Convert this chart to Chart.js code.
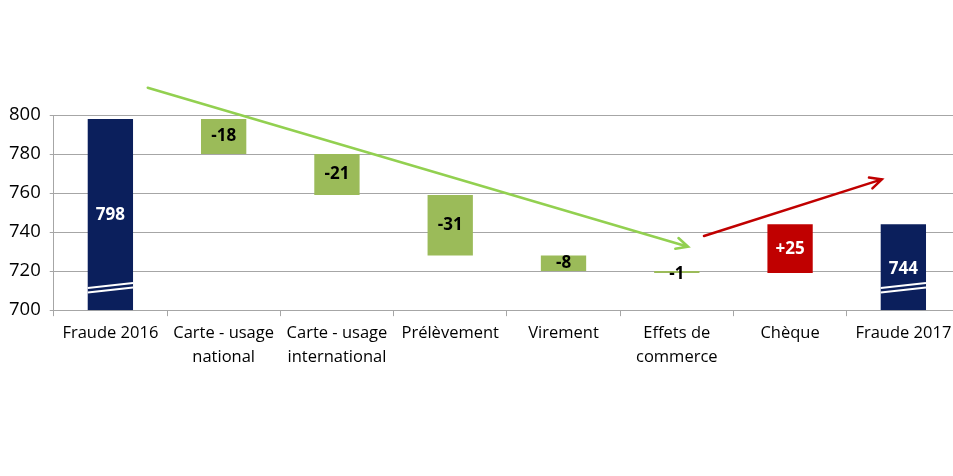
<!DOCTYPE html>
<html>
<head>
<meta charset="utf-8">
<script src="https://cdn.jsdelivr.net/npm/chart.js@4/dist/chart.umd.min.js"></script>
<style>
  body { margin: 0; background: #fff; overflow: hidden; }
  #wrap { width: 960px; height: 476px; }
</style>
</head>
<body>
<div id="wrap"><canvas id="chart" width="960" height="476"></canvas></div>
<script>
const categories = ["Fraude 2016", ["Carte - usage", "national"], ["Carte - usage", "international"], "Prélèvement", "Virement", ["Effets de", "commerce"], "Chèque", "Fraude 2017"];
const barStart = [700, 780, 759, 728, 720, 719, 719, 700];
const barEnd = [798, 798, 780, 759, 728, 720, 744, 744];
const barLabels = ["798", "-18", "-21", "-31", "-8", "-1", "+25", "744"];
const barColors = ["#0b1f5c", "#9bbb59", "#9bbb59", "#9bbb59", "#9bbb59", "#9bbb59", "#c00000", "#0b1f5c"];
const labelColors = ["#fff", "#000", "#000", "#000", "#000", "#000", "#fff", "#fff"];
const yTicks = [700, 720, 740, 760, 780, 800];

// trend arrows, in category index / value units
const greenArrow = { from: [0.33, 814], to: [5.1, 732.5], color: "#92d050" };
const redArrow = { from: [5.24, 738], to: [6.81, 767], color: "#c00000" };

const data = categories.map((c, i) => [barStart[i], barEnd[i]]);

// white "break" stripes on the total bars
const breakPlugin = {
  id: "breaks",
  afterDatasetsDraw(chart) {
    const ctx = chart.ctx;
    const y = chart.scales.y;
    const meta = chart.getDatasetMeta(0);
    [0, 7].forEach(i => {
      const bar = meta.data[i];
      const l = bar.x - bar.width / 2, r = bar.x + bar.width / 2;
      ctx.save();
      ctx.strokeStyle = "#fff";
      ctx.lineWidth = 2;
      [[709.0, 711.6], [711.3, 713.9]].forEach(v => {
        ctx.beginPath();
        ctx.moveTo(l, y.getPixelForValue(v[0]));
        ctx.lineTo(r, y.getPixelForValue(v[1]));
        ctx.stroke();
      });
      ctx.restore();
    });
  }
};

const labelPlugin = {
  id: "barLabels",
  afterDatasetsDraw(chart) {
    const ctx = chart.ctx;
    const y = chart.scales.y;
    const meta = chart.getDatasetMeta(0);
    ctx.save();
    ctx.font = "bold 17px 'Open Sans', sans-serif";
    ctx.textAlign = "center";
    ctx.textBaseline = "middle";
    meta.data.forEach((bar, i) => {
      let v = (barStart[i] + barEnd[i]) / 2;
      if (i === 0) v = 748.5;
      if (i === 7) v = 721;
      let py = y.getPixelForValue(v);
      if (i === 5) py += 2;
      ctx.fillStyle = labelColors[i];
      ctx.fillText(barLabels[i], bar.x, py);
    });
    ctx.restore();
  }
};

const arrowPlugin = {
  id: "arrows",
  afterDraw(chart) {
    const ctx = chart.ctx;
    const x = chart.scales.x, y = chart.scales.y;
    [greenArrow, redArrow].forEach(a => {
      const x1 = x.getPixelForValue(a.from[0]), y1 = y.getPixelForValue(a.from[1]);
      const x2 = x.getPixelForValue(a.to[0]), y2 = y.getPixelForValue(a.to[1]);
      const ang = Math.atan2(y2 - y1, x2 - x1);
      ctx.save();
      ctx.strokeStyle = a.color;
      ctx.lineWidth = 2.5;
      ctx.lineCap = "round";
      ctx.beginPath();
      ctx.moveTo(x1, y1);
      ctx.lineTo(x2, y2);
      ctx.moveTo(x2 - 13 * Math.cos(ang - 0.45), y2 - 13 * Math.sin(ang - 0.45));
      ctx.lineTo(x2, y2);
      ctx.lineTo(x2 - 13 * Math.cos(ang + 0.45), y2 - 13 * Math.sin(ang + 0.45));
      ctx.stroke();
      ctx.restore();
    });
  }
};

new Chart(document.getElementById("chart"), {
  type: "bar",
  data: {
    labels: categories,
    datasets: [{
      data: data,
      backgroundColor: barColors,
      barPercentage: 0.5,
      categoryPercentage: 0.8,
      borderSkipped: false
    }]
  },
  options: {
    responsive: false,
    animation: false,
    layout: { padding: { top: 115, bottom: 102, left: 0, right: 0 } },
    plugins: { legend: { display: false }, tooltip: { enabled: false } },
    scales: {
      x: {
        grid: { drawOnChartArea: false, drawTicks: true, tickLength: 6, color: "#a6a6a6", offset: true },
        border: { color: "#a6a6a6" },
        ticks: { color: "#000", font: { family: "'Open Sans', sans-serif", size: 16.5, lineHeight: 1.45 }, maxRotation: 0, padding: 5 }
      },
      y: {
        min: 700,
        max: 800,
        afterBuildTicks(axis) { axis.ticks = yTicks.map(v => ({ value: v })); },
        grid: { color: "#a6a6a6", tickLength: 4 },
        border: { color: "#a6a6a6" },
        ticks: { color: "#000", font: { family: "'Open Sans', sans-serif", size: 18.5 }, padding: 9 }
      }
    }
  },
  plugins: [breakPlugin, labelPlugin, arrowPlugin]
});
</script>
</body>
</html>
